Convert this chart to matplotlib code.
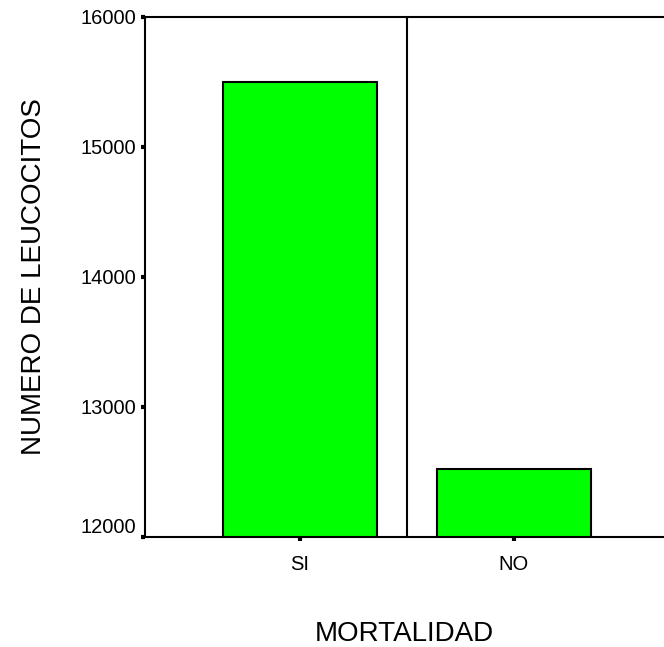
import matplotlib.pyplot as plt
from matplotlib.transforms import ScaledTranslation

categories = ['SI', 'NO']
leucocitos = [15500, 12520]
y_ticks = [12000, 13000, 14000, 15000, 16000]

plt.rcParams['font.family'] = ['Liberation Sans', 'DejaVu Sans']

fig = plt.figure(figsize=(6.64, 6.47), dpi=100)
ax = fig.add_axes([0.218, 0.170, 0.782, 0.804])

x = range(len(categories))
ax.bar(x, leucocitos, width=0.72, color='#00ff00', edgecolor='black', linewidth=1.5)
ax.axvline(0.5, color='black', linewidth=1.5)

ax.set_xlim(-0.723, 1.70)
ax.set_ylim(12000, 16000)
ax.set_xticks(list(x))
ax.set_xticklabels(categories)
ax.set_yticks(y_ticks)

for side in ['left', 'bottom', 'top']:
    ax.spines[side].set_linewidth(1.5)
ax.spines['right'].set_visible(False)

ax.tick_params(direction='out', length=3, width=3, labelsize=14.5)
ax.tick_params(axis='x', pad=10)
ax.tick_params(axis='y', pad=3)

# lowest y label sits a bit above its tick in the original
lbl = ax.get_yticklabels()[0]
lbl.set_transform(lbl.get_transform() + ScaledTranslation(0, 0.12, fig.dpi_scale_trans))

ax.set_ylabel('NUMERO DE LEUCOCITOS', fontsize=20, labelpad=24)
ax.set_xlabel('MORTALIDAD', fontsize=20, labelpad=34)

fig.savefig('out.png', dpi=100)
